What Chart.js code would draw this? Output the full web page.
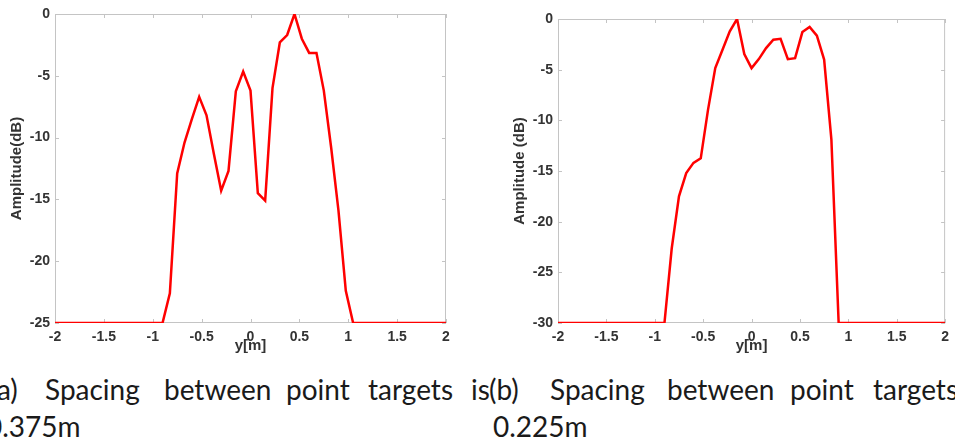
<!DOCTYPE html>
<html>
<head>
<meta charset="utf-8">
<script src="https://cdn.jsdelivr.net/npm/chart.js@4/dist/chart.umd.min.js"></script>
<style>
  html, body { margin: 0; padding: 0; background: #fff; }
  body { width: 955px; height: 441px; position: relative; overflow: hidden; }
  canvas { position: absolute; top: 0; }
  #chart-a { left: 0; }
  #chart-b { left: 490px; }
  .cap span {
    position: absolute;
    font-family: "Lato", sans-serif;
    font-size: 28px;
    line-height: 28px;
    color: #1a1a1a;
    white-space: nowrap;
  }
</style>
</head>
<body>
<canvas id="chart-a" width="470" height="355"></canvas>
<canvas id="chart-b" width="465" height="355"></canvas>

<!-- sub-captions, words placed like the justified LaTeX lines -->
<div class="cap" id="cap-a"></div>
<div class="cap" id="cap-b"></div>

<script>
// y position in metres, shared tick range
const X_MIN = -2, X_MAX = 2;

// (a) spacing 0.375 m
const posA = [-2, -0.9, -0.825, -0.75, -0.675, -0.6, -0.525, -0.45, -0.375, -0.3, -0.225, -0.15, -0.075,
  0, 0.075, 0.15, 0.225, 0.3, 0.375, 0.45, 0.525, 0.6, 0.675, 0.75, 0.825, 0.9, 0.975, 1.05, 2];
const ampA = [-25, -25, -22.6, -12.9, -10.4, -8.5, -6.7, -8.2, -11.3, -14.3, -12.7, -6.25, -4.66,
  -6.2, -14.5, -15.1, -6.0, -2.3, -1.7, 0, -2.0, -3.15, -3.15, -6.2, -10.8, -15.9, -22.4, -25, -25];

// (b) spacing 0.225 m
const posB = [-2, -0.9, -0.825, -0.75, -0.675, -0.6, -0.525, -0.45, -0.375, -0.3, -0.225, -0.15, -0.075,
  0, 0.075, 0.15, 0.225, 0.3, 0.375, 0.45, 0.525, 0.6, 0.675, 0.75, 0.825, 0.9, 2];
const ampB = [-30, -30, -22.65, -17.5, -15.2, -14.2, -13.75, -8.97, -4.85, -3.03, -1.22, 0, -3.46,
  -4.85, -3.96, -2.87, -2.04, -1.95, -3.96, -3.86, -1.29, -0.79, -1.65, -4.0, -11.9, -30, -30];

const captionA = ["(a)", "Spacing", "between", "point", "targets", "is"];
const captionA2 = "0.375m";
const captionB = ["(b)", "Spacing", "between", "point", "targets"];
const captionB2 = "0.225m";

const AXIS_GREY = "#c4c4c4";
const TEXT_GREY = "#333";

// word left edges of the justified first caption lines
function placeCaption(id, words, xs, line2, x2) {
  const el = document.getElementById(id);
  words.forEach((w, i) => {
    const s = document.createElement("span");
    s.textContent = w;
    s.style.left = xs[i] + "px";
    s.style.top = "375px";
    el.appendChild(s);
  });
  const s2 = document.createElement("span");
  s2.textContent = line2;
  s2.style.left = x2 + "px";
  s2.style.top = "412px";
  el.appendChild(s2);
}
placeCaption("cap-a", captionA, [-10, 45, 164, 286, 368, 471], captionA2, -14);
placeCaption("cap-b", captionB, [489, 550, 667, 790, 873], captionB2, 493);

// MATLAB-like box with inward ticks, drawn under the line
const boxPlugin = {
  id: "box",
  beforeDatasetsDraw(chart) {
    const { ctx, chartArea: a, scales } = chart;
    ctx.save();
    ctx.strokeStyle = AXIS_GREY;
    ctx.lineWidth = 1;
    ctx.strokeRect(a.left + 0.5, a.top + 0.5, a.right - a.left - 1, a.bottom - a.top - 1);
    const tl = 4;
    ctx.beginPath();
    scales.x.ticks.forEach(t => {
      const px = Math.round(scales.x.getPixelForValue(t.value)) + 0.5;
      ctx.moveTo(px, a.bottom); ctx.lineTo(px, a.bottom - tl);
      ctx.moveTo(px, a.top); ctx.lineTo(px, a.top + tl);
    });
    scales.y.ticks.forEach(t => {
      const py = Math.round(scales.y.getPixelForValue(t.value)) + 0.5;
      ctx.moveTo(a.left, py); ctx.lineTo(a.left + tl, py);
      ctx.moveTo(a.right, py); ctx.lineTo(a.right - tl, py);
    });
    ctx.stroke();
    ctx.restore();
  }
};

const tickFont = { family: "Liberation Sans", size: 14, weight: "bold" };
const titleFont = { family: "Liberation Sans", size: 15, weight: "bold" };

function makeChart(id, xs, ys, yMin, yTitle, opt) {
  const points = xs.map((x, i) => ({ x, y: ys[i] }));
  return new Chart(document.getElementById(id), {
    type: "line",
    data: {
      datasets: [{
        data: points,
        borderColor: "#ff0000",
        borderWidth: 2.5,
        pointRadius: 0,
        tension: 0,
        fill: false,
      }]
    },
    options: {
      responsive: false,
      animation: false,
      layout: { padding: { top: opt.top, right: opt.right, left: 0, bottom: 0 } },
      plugins: { legend: { display: false }, tooltip: { enabled: false } },
      scales: {
        x: {
          type: "linear",
          min: X_MIN, max: X_MAX,
          grid: { display: false, drawTicks: false },
          border: { display: false },
          ticks: { stepSize: 0.5, padding: 6, color: TEXT_GREY, font: tickFont, maxRotation: 0, callback: v => String(v) },
          title: { display: true, text: "y[m]", color: TEXT_GREY, padding: 0, font: titleFont },
          afterFit: s => { s.height = opt.xh; },
        },
        y: {
          min: yMin, max: 0,
          grid: { display: false, drawTicks: false },
          border: { display: false },
          ticks: { stepSize: 5, padding: 5, color: TEXT_GREY, font: tickFont, callback: v => String(v) },
          title: { display: true, text: yTitle, color: TEXT_GREY, padding: { top: opt.ytp, bottom: 0 }, font: titleFont },
          afterFit: s => { s.width = opt.yw; },
        }
      }
    },
    plugins: [boxPlugin]
  });
}

makeChart("chart-a", posA, ampA, -25, "Amplitude(dB)", { top: 14, right: 24, xh: 32, yw: 55, ytp: 8 });
makeChart("chart-b", posB, ampB, -30, "Amplitude (dB)", { top: 19, right: 4, xh: 32, yw: 68, ytp: 21 });
</script>
</body>
</html>
